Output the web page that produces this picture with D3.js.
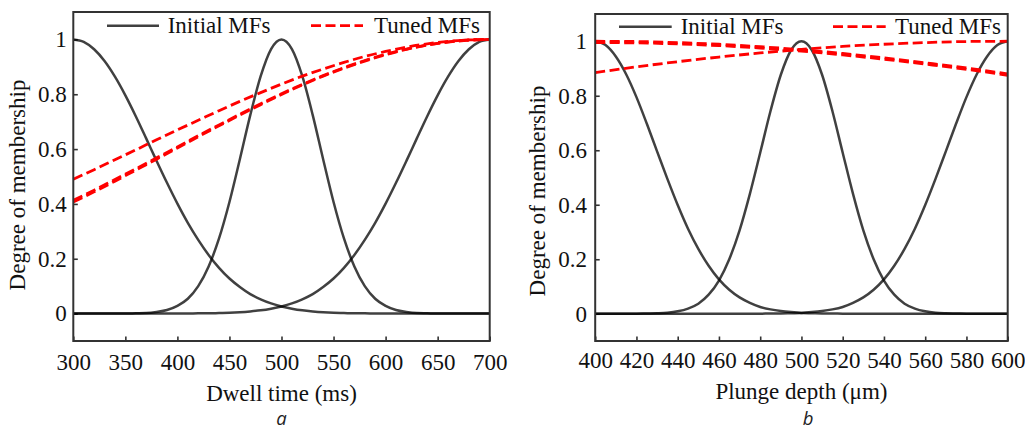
<!DOCTYPE html>
<html>
<head>
<meta charset="utf-8">
<script src="https://cdn.jsdelivr.net/npm/d3@7"></script>
<style>
  body { margin: 0; background: #fff; }
  svg { display: block; }
  .serif, .serif text { font-family: "Liberation Serif", "Times New Roman", Tinos, "DejaVu Serif", serif; }
</style>
</head>
<body>
<svg id="chart" width="1025" height="430"></svg>
<script>
// ---- Panel a: dwell time membership functions ----
const dwellTime = [300,310,320,330,340,350,360,370,380,390,400,410,420,430,440,450,460,470,480,490,500,
                   510,520,530,540,550,560,570,580,590,600,610,620,630,640,650,660,670,680,690,700];
const dwellInitLow = [1,.991,.964,.921,.864,.796,.720,.639,.557,.477,.401,.331,.269,.214,.167,.128,.097,.071,.052,.037,.026,
                      .018,.012,.008,.005,.003,.002,.001,.001,0,0,0,0,0,0,0,0,0,0,0,0];
const dwellInitMid = [0,0,0,0,0,0,.001,.002,.006,.013,.028,.054,.100,.172,.274,.407,.563,.724,.866,.965,1,
                      .965,.866,.724,.563,.407,.274,.172,.100,.054,.028,.013,.006,.002,.001,0,0,0,0,0,0];
const dwellInitHigh = [0,0,0,0,0,0,0,0,0,0,0,0,.001,.001,.002,.003,.005,.008,.012,.018,.026,
                       .037,.052,.071,.097,.128,.167,.214,.269,.331,.401,.477,.557,.639,.720,.796,.864,.921,.964,.991,1];
const dwellTunedX = [300,320,340,360,380,400,420,440,460,480,500,520,540,560,580,600,620,640,660,680,700];
const dwellTuned1 = [.490,.525,.561,.597,.634,.670,.705,.740,.774,.806,.837,.866,.892,.916,.938,.956,.972,.984,.993,.998,1];
const dwellTuned2 = [.413,.450,.489,.528,.568,.608,.649,.688,.727,.765,.802,.836,.868,.897,.923,.946,.965,.980,.991,.998,1];
const dwellTuned3 = [.407,.444,.483,.523,.563,.604,.645,.685,.724,.762,.799,.834,.866,.895,.921,.944,.964,.979,.990,.997,1];
const dwellTicks = [300,350,400,450,500,550,600,650,700];

// ---- Panel b: plunge depth membership functions ----
const plungeDepth = [400,405,410,415,420,425,430,435,440,445,450,455,460,465,470,475,480,485,490,495,500,
                     505,510,515,520,525,530,535,540,545,550,555,560,565,570,575,580,585,590,595,600];
const plungeInitLow = [1,.986,.944,.879,.795,.698,.596,.495,.399,.312,.238,.176,.126,.088,.060,.040,.025,.016,.010,.006,.003,
                       .002,.001,.001,0,0,0,0,0,0,0,0,0,0,0,0,0,0,0,0,0];
const plungeInitMid = [0,0,0,0,0,.001,.002,.004,.009,.019,.037,.070,.122,.200,.306,.440,.591,.744,.877,.968,1,
                       .968,.877,.744,.591,.440,.306,.200,.122,.070,.037,.019,.009,.004,.002,.001,0,0,0,0,0];
const plungeInitHigh = [0,0,0,0,0,0,0,0,0,0,0,0,0,0,0,0,0,.001,.001,.002,.003,
                        .006,.010,.016,.025,.040,.060,.088,.126,.176,.238,.312,.399,.495,.596,.698,.795,.879,.944,.986,1];
const plungeTunedX = [400,420,440,460,480,500,520,540,560,580,600];
const plungeTuned1 = [1,.999,.995,.989,.980,.969,.955,.939,.921,.902,.880];
const plungeTuned2 = [.995,.994,.990,.984,.975,.964,.950,.934,.916,.897,.875];
const plungeTuned3 = [.885,.906,.925,.942,.957,.970,.981,.989,.995,.999,1];
const plungeTicks = [400,420,440,460,480,500,520,540,560,580,600];

// ---- shared y axis ----
const yTicks = [0, 0.2, 0.4, 0.6, 0.8, 1];
const yTickLabels = ["0", "0.2", "0.4", "0.6", "0.8", "1"];
const yTitle = "Degree of membership";
const legendLabels = ["Initial MFs", "Tuned MFs"];

const svg = d3.select("#chart");
svg.append("rect").attr("width", 1025).attr("height", 430).attr("fill", "#fff");

const panels = [
  {
    left: 73.3, right: 489.7, top: 12, bottom: 341,
    domain: [300, 700], ticks: dwellTicks, xPad: 13, yPad: 6.5,
    xTitle: "Dwell time (ms)", xTitleY: 400.5, yTitleX: 25, yTitleY: 185,
    caption: "a", captionX: 281.5,
    xs: dwellTime, initial: [dwellInitLow, dwellInitMid, dwellInitHigh],
    tunedX: dwellTunedX, tuned: [dwellTuned1, dwellTuned2, dwellTuned3],
    legend: { y: 25.7, base: 33.3, l1: [107, 159], t1: 167.7, l2: [311, 363], t2: 374 }
  },
  {
    left: 595.2, right: 1007.7, top: 14, bottom: 341,
    domain: [400, 600], ticks: plungeTicks, xPad: 11, yPad: 8.3,
    xTitle: "Plunge depth (\u03bcm)", xTitleY: 399, yTitleX: 545, yTitleY: 191,
    caption: "b", captionX: 808,
    xs: plungeDepth, initial: [plungeInitLow, plungeInitMid, plungeInitHigh],
    tunedX: plungeTunedX, tuned: [plungeTuned1, plungeTuned2, plungeTuned3],
    legend: { y: 26.7, base: 34, l1: [619, 671.7], t1: 680.7, l2: [833, 885.7], t2: 895 }
  }
];

const DASH = "10,4.5";

panels.forEach(p => {
  const x = d3.scaleLinear().domain(p.domain).range([p.left, p.right]);
  const y = d3.scaleLinear().domain([-0.1, 1.1]).range([p.bottom, p.top]);

  // bottom axis, ticks pointing inward
  const gx = svg.append("g")
    .attr("transform", `translate(0,${p.bottom})`)
    .call(d3.axisBottom(x).tickValues(p.ticks).tickFormat(d3.format("d"))
      .tickSizeInner(-4.5).tickSizeOuter(0).tickPadding(p.xPad));
  gx.select(".domain").remove();
  gx.attr("font-family", null).attr("font-size", 23).classed("serif", true);
  gx.selectAll("line").attr("stroke", "#333").attr("stroke-width", 1.6);
  gx.selectAll("text").attr("fill", "#111");

  // left axis, ticks pointing inward
  const gy = svg.append("g")
    .attr("transform", `translate(${p.left},0)`)
    .call(d3.axisLeft(y).tickValues(yTicks).tickFormat((d, i) => yTickLabels[i])
      .tickSizeInner(-4.5).tickSizeOuter(0).tickPadding(p.yPad));
  gy.select(".domain").remove();
  gy.attr("font-family", null).attr("font-size", 23).classed("serif", true);
  gy.selectAll("line").attr("stroke", "#333").attr("stroke-width", 1.6);
  gy.selectAll("text").attr("fill", "#111");

  // initial membership functions
  p.initial.forEach(vals => {
    const line = d3.line()
      .x((d, i) => x(p.xs[i]))
      .y(d => y(d))
      .curve(d3.curveMonotoneX);
    svg.append("path").datum(vals)
      .attr("d", line)
      .attr("fill", "none")
      .attr("stroke", "#000")
      .attr("stroke-opacity", 0.75)
      .attr("stroke-width", 2.5);
  });

  // tuned membership functions
  p.tuned.forEach(vals => {
    const line = d3.line()
      .x((d, i) => x(p.tunedX[i]))
      .y(d => y(d))
      .curve(d3.curveMonotoneX);
    svg.append("path").datum(vals)
      .attr("d", line)
      .attr("fill", "none")
      .attr("stroke", "#ff0000")
      .attr("stroke-width", 2.8)
      .attr("stroke-dasharray", DASH);
  });

  // axes frame
  svg.append("rect")
    .attr("x", p.left).attr("y", p.top)
    .attr("width", p.right - p.left).attr("height", p.bottom - p.top)
    .attr("fill", "none").attr("stroke", "#333").attr("stroke-width", 2);

  // legend
  const L = p.legend;
  svg.append("line").attr("x1", L.l1[0]).attr("x2", L.l1[1]).attr("y1", L.y).attr("y2", L.y)
    .attr("stroke", "#000").attr("stroke-opacity", 0.75).attr("stroke-width", 2.5);
  svg.append("text").attr("class", "serif").attr("x", L.t1).attr("y", L.base).text(legendLabels[0])
    .attr("font-size", 23).attr("fill", "#111");
  svg.append("line").attr("x1", L.l2[0]).attr("x2", L.l2[1]).attr("y1", L.y).attr("y2", L.y)
    .attr("stroke", "#ff0000").attr("stroke-width", 2.8).attr("stroke-dasharray", DASH);
  svg.append("text").attr("class", "serif").attr("x", L.t2).attr("y", L.base).text(legendLabels[1])
    .attr("font-size", 23).attr("fill", "#111");

  // axis titles
  svg.append("text").attr("class", "serif")
    .attr("x", (p.left + p.right) / 2).attr("y", p.xTitleY)
    .attr("text-anchor", "middle")
    .attr("font-size", 23).attr("fill", "#111")
    .text(p.xTitle);
  svg.append("text").attr("class", "serif")
    .attr("transform", `translate(${p.yTitleX},${p.yTitleY}) rotate(-90)`)
    .attr("text-anchor", "middle")
    .attr("font-size", 23).attr("fill", "#111")
    .text(yTitle);

  // panel caption
  svg.append("text")
    .attr("x", p.captionX).attr("y", 425)
    .attr("text-anchor", "middle")
    .style("font-family", "'Open Sans', sans-serif").attr("font-style", "italic")
    .attr("font-size", 18.5).attr("fill", "#222")
    .text(p.caption);
});
</script>
</body>
</html>
